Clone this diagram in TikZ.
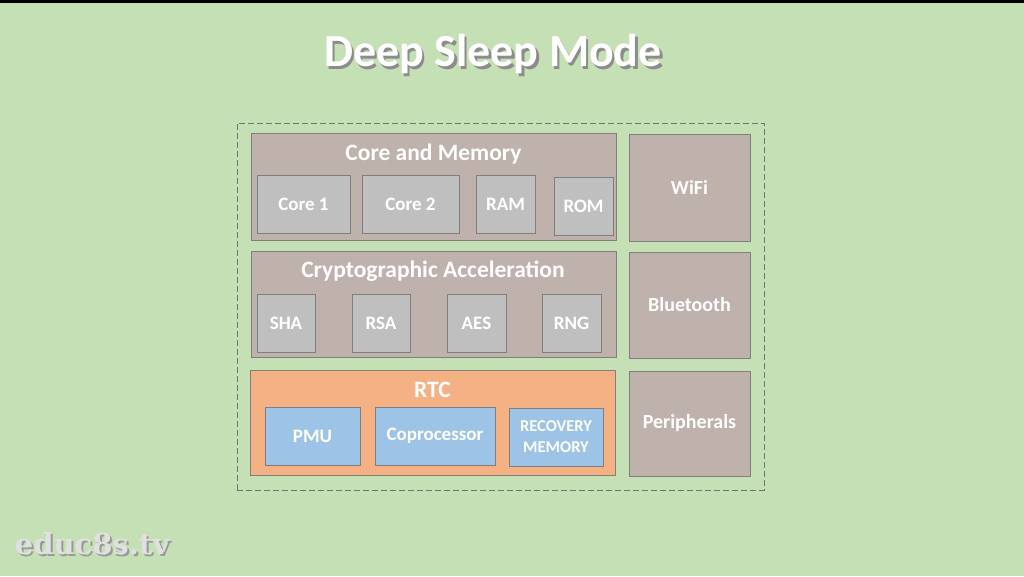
\documentclass[tikz,border=0pt]{standalone}
\usepackage{fontspec}
\setmainfont{Carlito}
\newfontfamily\wmfont{DejaVu Serif}
\definecolor{bg}{HTML}{C5E0B4}
\definecolor{brownbox}{HTML}{BFB1AB}
\definecolor{graybox}{HTML}{BFBFBF}
\definecolor{edge}{HTML}{7F7F7F}
\definecolor{orangebox}{HTML}{F4B183}
\definecolor{bluebox}{HTML}{9DC3E6}
\begin{document}
\begin{tikzpicture}[x=1pt,y=-1pt,
  group/.style={draw=edge,line width=1pt,fill=brownbox},
  item/.style={draw=edge,line width=1pt,fill=graybox,text=white,font=\bfseries\fontsize{19}{22}\selectfont},
  bitem/.style={draw=edge,line width=1pt,fill=bluebox,text=white,font=\bfseries\fontsize{19}{22}\selectfont,align=center},
  gtitle/.style={text=white,font=\bfseries\fontsize{23.5}{26}\selectfont},
  side/.style={draw=edge,line width=1pt,fill=brownbox,text=white,font=\bfseries\fontsize{20}{24}\selectfont}]
\useasboundingbox (0,0) rectangle (1024,576);
\fill[bg] (0,0) rectangle (1024,576);
\fill[black] (0,0) rectangle (1024,3);
% title
\node[text=black!45,font=\bfseries\fontsize{46}{52}\selectfont] at (495.5,56.5) {Deep Sleep Mode};
\node (title) [text=white,font=\bfseries\fontsize{46}{52}\selectfont] at (493,54) {Deep Sleep Mode};
% outer dashed
\node (outer) [draw=edge!90!black,line width=1pt,dash pattern=on 6pt off 3pt,minimum width=527pt,minimum height=367pt,inner sep=0pt] at (500.5,306.5) {};
% core and memory
\node (cm) [group,minimum width=365pt,minimum height=107pt,inner sep=0pt] at (433.5,186.5) {};
\node (cmt) [gtitle] at (433.5,154) {Core and Memory};
\node (c1) [item,minimum width=93pt,minimum height=58pt,inner sep=0pt] at (303.5,204) {Core 1};
\node (c2) [item,minimum width=97pt,minimum height=58pt,inner sep=0pt] at (410.5,204) {Core 2};
\node (ram) [item,minimum width=59pt,minimum height=58pt,inner sep=0pt] at (505.5,204) {RAM};
\node (rom) [item,minimum width=59pt,minimum height=58pt,inner sep=0pt] at (583.5,206) {ROM};
\node (wifi) [side,minimum width=121pt,minimum height=107pt,inner sep=0pt] at (689.5,187.5) {WiFi};
% crypto
\node (cr) [group,minimum width=365pt,minimum height=106pt,inner sep=0pt] at (433.5,304) {};
\node (crt) [gtitle] at (433,271.5) {Cryptographic Acceleration};
\node (sha) [item,minimum width=58pt,minimum height=58pt,inner sep=0pt] at (286,323) {SHA};
\node (rsa) [item,minimum width=58pt,minimum height=58pt,inner sep=0pt] at (381,323) {RSA};
\node (aes) [item,minimum width=59pt,minimum height=58pt,inner sep=0pt] at (476.5,323) {AES};
\node (rng) [item,minimum width=59pt,minimum height=58pt,inner sep=0pt] at (571.5,323) {RNG};
\node (bt) [side,minimum width=121pt,minimum height=106pt,inner sep=0pt] at (689.5,305) {Bluetooth};
% RTC
\node (rtc) [draw=edge,line width=1pt,fill=orangebox,minimum width=365pt,minimum height=105pt,inner sep=0pt] at (432.5,422.5) {};
\node (rtct) [gtitle] at (432.5,389.5) {RTC};
\node (pmu) [bitem,minimum width=95pt,minimum height=58pt,inner sep=0pt] at (312.5,436) {PMU};
\node (cop) [bitem,minimum width=120pt,minimum height=58pt,inner sep=0pt] at (435,436) {Coprocessor};
\node (rec) [bitem,minimum width=94pt,minimum height=58pt,inner sep=0pt,font=\bfseries\fontsize{16.5}{21}\selectfont] at (556,437) {RECOVERY\\MEMORY};
\node (per) [side,minimum width=121pt,minimum height=105pt,inner sep=0pt] at (689.5,423.5) {Peripherals};
% watermark
\node[text=black!40,font=\wmfont\bfseries\fontsize{29}{32}\selectfont] at (94,546) {educ8s.tv};
\node (wm) [text=black!12,font=\wmfont\bfseries\fontsize{29}{32}\selectfont] at (92,544) {educ8s.tv};
\end{tikzpicture}
\end{document}
